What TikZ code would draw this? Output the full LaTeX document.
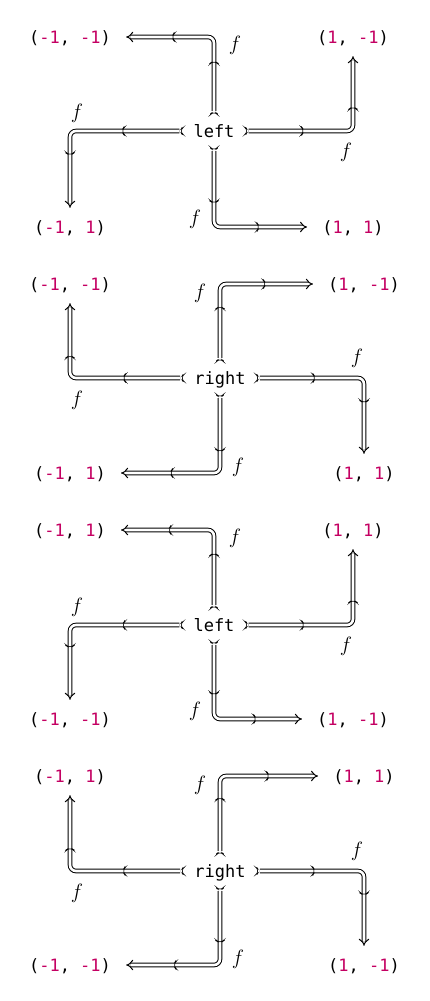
\documentclass[tikz,border=0pt]{standalone}
\usepackage{fontspec}
\setmonofont{DejaVu Sans Mono}
\usepackage{tikz}
\usetikzlibrary{arrows.meta,decorations.markings,positioning}

\definecolor{numpink}{RGB}{196,0,98}
\newcommand{\nv}[1]{\textcolor{numpink}{#1}}
\newcommand{\chev}{\draw[Chev] (-3.8pt,4.6pt) .. controls (-1.8pt,1.9pt) .. (0.4pt,0pt) .. controls (-1.8pt,-1.9pt) .. (-3.8pt,-4.6pt);}
\newcommand{\chevtail}{\draw[Chev] (-3pt,3.7pt) .. controls (-1.3pt,1.5pt) .. (0.6pt,0pt) .. controls (-1.3pt,-1.5pt) .. (-3pt,-3.7pt);}

\begin{document}
\begin{tikzpicture}[x=1pt, y=-1pt]
		\tikzstyle{Side}	= [font=\fontsize{17}{20}\selectfont\ttfamily, text height=13pt, text depth=1pt, inner xsep=14pt, inner ysep=0pt, minimum height=40pt]
		\tikzstyle{Corner}	= [font=\fontsize{17}{20}\selectfont\ttfamily, text height=13pt, text depth=1pt, inner xsep=15pt, inner ysep=0pt, minimum height=38pt]
		\tikzstyle{Lbl}		= [font=\fontsize{21}{24}\selectfont, inner sep=0pt]
		\tikzstyle{Chev}	= [line width=0.6pt, solid]
		\tikzstyle{Map}		= [double, line width=1pt, double distance=2.6pt, rounded corners=6pt, -{Implies},
			decoration={markings,
				mark=at position 0 with {\chevtail},
				mark=at position 0.32 with {\chev},
				mark=at position 0.72 with {\chev}},
			postaction={decorate}]

		\useasboundingbox (0,0) rectangle (429,1001);

		% left
		\node (c1) at (214, 131) [Side] {left};
		\node (tl1) at (70, 37) [Corner] {(\nv{-1}, \nv{-1})};
		\node (tr1) at (353, 37) [Corner] {(\nv{1}, \nv{-1})};
		\node (bl1) at (70, 227) [Corner] {(\nv{-1}, \nv{1})};
		\node (br1) at (353, 227) [Corner] {(\nv{1}, \nv{1})};

		\draw [Map] (c1.north) |- node[Lbl, shift={(21,8)}] {$f$} (tl1);
		\draw [Map] (c1.east) -| node[Lbl, shift={(-7,21)}] {$f$} (tr1);
		\draw [Map] (c1.west) -| node[Lbl, shift={(7,-18)}] {$f$} (bl1);
		\draw [Map] (c1.south) |- node[Lbl, shift={(-19,-8)}] {$f$} (br1);

		% right
		\node (c2) at (220, 378) [Side] {right};
		\node (tl2) at (70, 284) [Corner] {(\nv{-1}, \nv{-1})};
		\node (tr2) at (364, 284) [Corner] {(\nv{1}, \nv{-1})};
		\node (bl2) at (70, 473) [Corner] {(\nv{-1}, \nv{1})};
		\node (br2) at (364, 473) [Corner] {(\nv{1}, \nv{1})};

		\draw [Map] (c2.north) |- node[Lbl, shift={(-20,9)}] {$f$} (tr2);
		\draw [Map] (c2.east) -| node[Lbl, shift={(-7,-20)}] {$f$} (br2);
		\draw [Map] (c2.south) |- node[Lbl, shift={(18,-6)}] {$f$} (bl2);
		\draw [Map] (c2.west) -| node[Lbl, shift={(7,22)}] {$f$} (tl2);

		% left, flipped
		\node (c3) at (214, 625) [Side] {left};
		\node (tl3) at (70, 530) [Corner] {(\nv{-1}, \nv{1})};
		\node (tr3) at (353, 530) [Corner] {(\nv{1}, \nv{1})};
		\node (bl3) at (70, 719) [Corner] {(\nv{-1}, \nv{-1})};
		\node (br3) at (353, 719) [Corner] {(\nv{1}, \nv{-1})};

		\draw [Map] (c3.north) |- node[Lbl, shift={(21,8)}] {$f$} (tl3);
		\draw [Map] (c3.east) -| node[Lbl, shift={(-7,21)}] {$f$} (tr3);
		\draw [Map] (c3.west) -| node[Lbl, shift={(7,-18)}] {$f$} (bl3);
		\draw [Map] (c3.south) |- node[Lbl, shift={(-19,-8)}] {$f$} (br3);

		% right, flipped
		\node (c4) at (220, 871) [Side] {right};
		\node (tl4) at (70, 776) [Corner] {(\nv{-1}, \nv{1})};
		\node (tr4) at (364, 776) [Corner] {(\nv{1}, \nv{1})};
		\node (bl4) at (70, 965) [Corner] {(\nv{-1}, \nv{-1})};
		\node (br4) at (364, 965) [Corner] {(\nv{1}, \nv{-1})};

		\draw [Map] (c4.north) |- node[Lbl, shift={(-20,9)}] {$f$} (tr4);
		\draw [Map] (c4.east) -| node[Lbl, shift={(-7,-20)}] {$f$} (br4);
		\draw [Map] (c4.south) |- node[Lbl, shift={(18,-6)}] {$f$} (bl4);
		\draw [Map] (c4.west) -| node[Lbl, shift={(7,22)}] {$f$} (tl4);
\end{tikzpicture}
\end{document}
